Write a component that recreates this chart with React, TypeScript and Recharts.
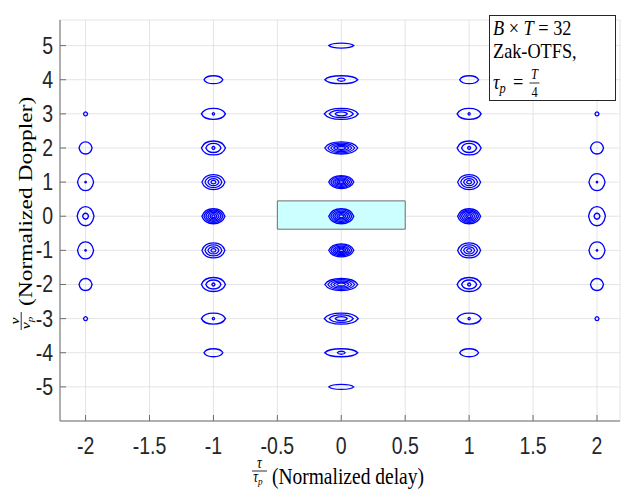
import { ScatterChart, Scatter, XAxis, YAxis, CartesianGrid, ReferenceArea } from 'recharts';

// axis ticks
const delayTicks = [-2, -1.5, -1, -0.5, 0, 0.5, 1, 1.5, 2];
const dopplerTicks = [-5, -4, -3, -2, -1, 0, 1, 2, 3, 4, 5];

// contour rings: [delay half-width, doppler half-width],
// one list per |doppler| = 0, 1, 2, ... for each delay column
const centreRings = [
    [[0.098, 0.22], [0.082, 0.185], [0.066, 0.15], [0.051, 0.114], [0.035, 0.079], [0.02, 0.044]],
    [[0.098, 0.19], [0.082, 0.158], [0.066, 0.126], [0.051, 0.094], [0.035, 0.065], [0.02, 0.035]],
    [[0.129, 0.176], [0.105, 0.141], [0.082, 0.106], [0.059, 0.073], [0.035, 0.044]],
    [[0.133, 0.161], [0.094, 0.111], [0.047, 0.059]],
    [[0.129, 0.117], [0.031, 0.044]],
    [[0.098, 0.073]],
];
const firstRings = [
    [[0.09, 0.22], [0.074, 0.182], [0.059, 0.147], [0.043, 0.111], [0.027, 0.076], [0.012, 0.041]],
    [[0.09, 0.22], [0.066, 0.161], [0.043, 0.103], [0.02, 0.053]],
    [[0.094, 0.205], [0.059, 0.132], [0.012, 0.044]],
    [[0.094, 0.161], [0.009, 0.035]],
    [[0.074, 0.117]],
];
const secondRings = [
    [[0.066, 0.279], [0.023, 0.088]],
    [[0.063, 0.249], [0.006, 0.023]],
    [[0.051, 0.176]],
    [[0.016, 0.059]],
];
const columnDelays = [-2, -1, 0, 1, 2];
const columnRings = [secondRings, firstRings, centreRings, firstRings, secondRings];

// highlighted region
const boxDelay = [-0.5, 0.5];
const boxDoppler = [-0.38, 0.45];

const X_MIN = -2.2;
const X_MAX = 2.18;
const Y_MIN = -6;
const Y_MAX = 5.75;

const W = 621;
const H = 497;
const MARGIN = { top: 20, right: 1, bottom: 0, left: 0 };
const Y_AXIS_W = 60;
const X_AXIS_H = 76;
const PLOT_W = W - MARGIN.left - MARGIN.right - Y_AXIS_W;
const PLOT_H = H - MARGIN.top - MARGIN.bottom - X_AXIS_H;
const PX_X = PLOT_W / (X_MAX - X_MIN);
const PX_Y = PLOT_H / (Y_MAX - Y_MIN);

const AXIS = '#6e6e6e';
const TICK_TEXT = '#262626';
const BLUE = '#0000ff';
const SANS = '"Liberation Sans", Arial, sans-serif';
const SERIF = '"Liberation Serif", "DejaVu Serif", serif';
const SQUEEZE = 0.83;

const contours = columnDelays.flatMap((delay, c) =>
    columnRings[c].flatMap((rings, k) =>
        (k === 0 ? [0] : [k, -k]).flatMap((nu) =>
            rings.map(([dt, dn]) => ({ x: delay, y: nu, dt, dn }))
        )
    )
);

const ContourRing = (props: any) => {
    const { cx, cy, payload } = props;
    if (cx == null || cy == null) return null;
    const rx = payload.dt * PX_X;
    const ry = payload.dn * PX_Y;
    const a = 0.88, b = 0.55, c = 0.55;
    const d = [
        `M${cx - rx},${cy}`,
        `C${cx - a * rx},${cy - b * ry} ${cx - c * rx},${cy - ry} ${cx},${cy - ry}`,
        `C${cx + c * rx},${cy - ry} ${cx + a * rx},${cy - b * ry} ${cx + rx},${cy}`,
        `C${cx + a * rx},${cy + b * ry} ${cx + c * rx},${cy + ry} ${cx},${cy + ry}`,
        `C${cx - c * rx},${cy + ry} ${cx - a * rx},${cy + b * ry} ${cx - rx},${cy}Z`,
    ].join(' ');
    return <path d={d} fill="none" stroke={BLUE} strokeWidth={1.3} />;
};

const BottomTick = ({ x, y, payload }: any) => (
    <g>
        <line x1={x} y1={y} x2={x} y2={y - 6} stroke={AXIS} />
        <text
            transform={`translate(${x},${y + 33}) scale(${SQUEEZE},1)`}
            textAnchor="middle"
            fontSize={23.5}
            fontFamily={SANS}
            fill={TICK_TEXT}
        >
            {payload.value}
        </text>
    </g>
);

const LeftTick = ({ x, y, payload }: any) => (
    <g>
        <line x1={x} y1={y} x2={x + 6} y2={y} stroke={AXIS} />
        <text
            transform={`translate(${x - 7},${y + 8}) scale(${SQUEEZE},1)`}
            textAnchor="end"
            fontSize={23.5}
            fontFamily={SANS}
            fill={TICK_TEXT}
        >
            {payload.value}
        </text>
    </g>
);

const TopTick = ({ x, y }: any) => <line x1={x} y1={y} x2={x} y2={y + 6} stroke={AXIS} />;
const RightTick = ({ x, y }: any) => <line x1={x} y1={y} x2={x - 6} y2={y} stroke={AXIS} />;

// fraction + words, drawn at the origin; placed by a transform
function AxisTitle({ sym, words, transform }: { sym: string; words: string; transform: string }) {
    return (
        <g transform={transform} fontFamily={SERIF} fill="#000">
            <text x={9} y={-16} fontSize={16} fontStyle="italic" textAnchor="middle">{sym}</text>
            <line x1={0} x2={18} y1={-13} y2={-13} stroke="#000" strokeWidth={0.9} />
            <text x={7} y={-2} fontSize={16} fontStyle="italic" textAnchor="middle">
                {sym}
                <tspan fontSize={11} dy={3}>p</tspan>
            </text>
            <text x={24} y={0} fontSize={23.5}>{words}</text>
        </g>
    );
}

function Overlay() {
    return (
        <svg width={W} height={H} style={{ position: 'absolute', left: 0, top: 0, pointerEvents: 'none' }}>
            <AxisTitle sym="τ" words="(Normalized delay)" transform={`translate(252,484) scale(${SQUEEZE},1)`} />
            <AxisTitle
                sym="ν"
                words="(Normalized Doppler)"
                transform={`translate(32,330) scale(${SQUEEZE},1) rotate(-90)`}
            />
            <g fontFamily={SERIF} fill="#000">
                <rect x={489.5} y={15.5} width={126} height={85} fill="#fff" stroke="#262626" strokeWidth={1} />
                <text transform={`translate(493,35) scale(${SQUEEZE},1)`} fontSize={22}>
                    <tspan fontStyle="italic">B</tspan>
                    <tspan> × </tspan>
                    <tspan fontStyle="italic">T</tspan>
                    <tspan> = 32</tspan>
                </text>
                <text transform={`translate(493,58) scale(${SQUEEZE},1)`} fontSize={22}>Zak-OTFS,</text>
                <g transform={`translate(493,89) scale(${SQUEEZE},1)`}>
                    <text x={0} y={0} fontSize={22} fontStyle="italic">
                        τ<tspan fontSize={15} dy={4}>p</tspan>
                    </text>
                    <text x={24} y={0} fontSize={22}>=</text>
                    <text x={50} y={-10} fontSize={15} fontStyle="italic" textAnchor="middle">T</text>
                    <line x1={44} x2={56} y1={-6} y2={-6} stroke="#000" strokeWidth={0.9} />
                    <text x={50} y={8} fontSize={15} textAnchor="middle">4</text>
                </g>
            </g>
        </svg>
    );
}

export default function App() {
    return (
        <div style={{ position: 'absolute', left: 0, top: 0, width: W, height: H, background: '#fff' }}>
            <ScatterChart width={W} height={H} margin={MARGIN}>
                <CartesianGrid xAxisId="b" yAxisId="l" stroke="#e4e4e4" />
                <XAxis
                    xAxisId="b"
                    dataKey="x"
                    type="number"
                    domain={[X_MIN, X_MAX]}
                    ticks={delayTicks}
                    interval={0}
                    height={X_AXIS_H}
                    tickSize={0}
                    tickMargin={0}
                    tickLine={false}
                    axisLine={{ stroke: AXIS }}
                    tick={(p: any) => <BottomTick {...p} />}
                />
                <XAxis
                    xAxisId="t"
                    orientation="top"
                    type="number"
                    domain={[X_MIN, X_MAX]}
                    ticks={delayTicks}
                    interval={0}
                    height={0}
                    tickSize={0}
                    tickMargin={0}
                    tickLine={false}
                    axisLine={{ stroke: AXIS }}
                    tick={(p: any) => <TopTick {...p} />}
                />
                <YAxis
                    yAxisId="l"
                    dataKey="y"
                    type="number"
                    domain={[Y_MIN, Y_MAX]}
                    ticks={dopplerTicks}
                    interval={0}
                    width={Y_AXIS_W}
                    tickSize={0}
                    tickMargin={0}
                    tickLine={false}
                    axisLine={{ stroke: AXIS }}
                    tick={(p: any) => <LeftTick {...p} />}
                />
                <YAxis
                    yAxisId="r"
                    orientation="right"
                    type="number"
                    domain={[Y_MIN, Y_MAX]}
                    ticks={dopplerTicks}
                    interval={0}
                    width={0}
                    tickSize={0}
                    tickMargin={0}
                    tickLine={false}
                    axisLine={{ stroke: AXIS }}
                    tick={(p: any) => <RightTick {...p} />}
                />
                <ReferenceArea
                    xAxisId="b"
                    yAxisId="l"
                    x1={boxDelay[0]}
                    x2={boxDelay[1]}
                    y1={boxDoppler[0]}
                    y2={boxDoppler[1]}
                    fill="#ccffff"
                    fillOpacity={1}
                    stroke="#6e6e6e"
                />
                <Scatter
                    xAxisId="b"
                    yAxisId="l"
                    data={contours}
                    shape={ContourRing}
                    isAnimationActive={false}
                />
            </ScatterChart>
            <Overlay />
        </div>
    );
}
